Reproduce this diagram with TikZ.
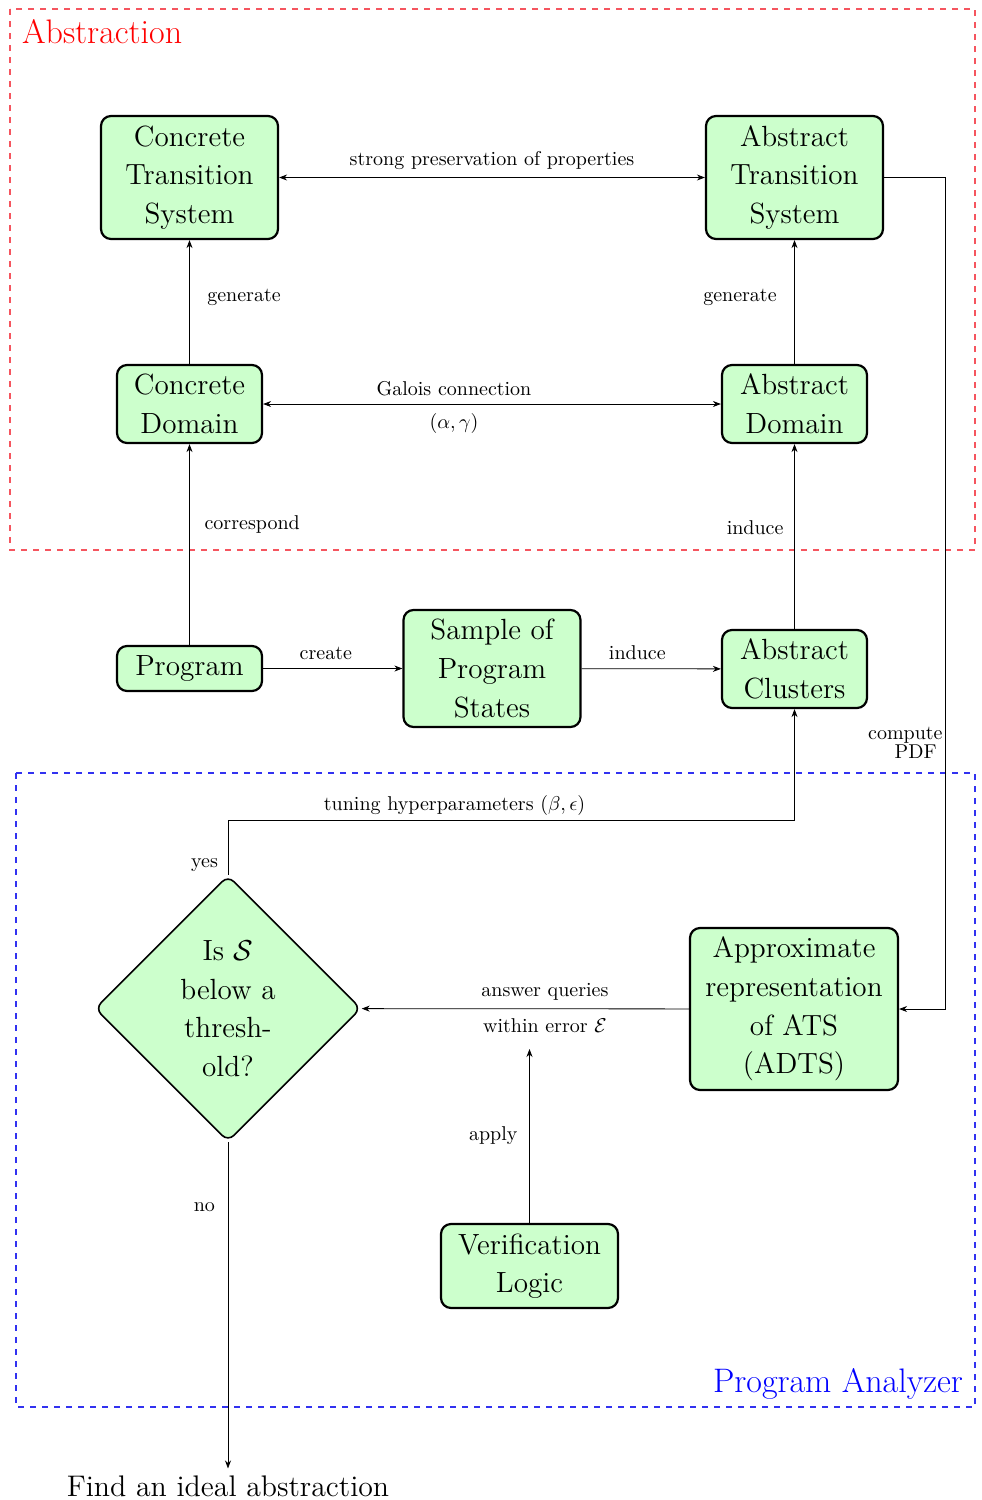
\documentclass[tikz,border=0pt]{standalone}
\usepackage{amsmath, amssymb}
\usepackage{xcolor}
\definecolor{boxgreen}{RGB}{204,255,204}
\definecolor{absred}{RGB}{245,85,95}
\definecolor{anablue}{RGB}{50,50,240}
\usetikzlibrary{positioning,arrows.meta,shapes.geometric}

\begin{document}
\begin{tikzpicture}[
      x=0.5pt,y=-0.5pt,
      >={Stealth[length=4pt,width=3pt]},
      blk/.style={draw=black,line width=1.1pt,rounded corners=5pt,fill=boxgreen,
        font=\fontsize{14.6}{19.3}\selectfont,align=center,inner sep=2pt},
      wide/.style={minimum width=88.5pt},
      narrow/.style={minimum width=72.5pt},
      ask/.style={diamond,draw=black,thick,rounded corners=4pt,fill=boxgreen,
        font=\fontsize{14.6}{19.3}\selectfont,align=center,inner sep=0pt,
        minimum width=133pt,minimum height=133pt},
      lbl/.style={font=\normalsize},
      title/.style={font=\fontsize{17}{20}\selectfont},
      region/.style={dashed,line width=0.6pt}
    ]
    \useasboundingbox (0,0) rectangle (981,1500);

    % the two regions
    \draw[region,absred] (10,9) rectangle (975,550);
    \node[title,red,anchor=west] (abslbl) at (15,32) {Abstraction};
    \draw[region,anablue] (16,773) rectangle (975,1407);
    \node[title,blue,anchor=east] (analbl) at (970,1384) {Program Analyzer};

    % boxes
    \node[blk,wide,minimum height=61.5pt] (cts) at (189.5,177.5) {Concrete\\Transition\\System};
    \node[blk,wide,minimum height=61.5pt] (ats) at (794.5,177.5) {Abstract\\Transition\\System};
    \node[blk,narrow,minimum height=39pt] (cd) at (189.5,404) {Concrete\\Domain};
    \node[blk,narrow,minimum height=39pt] (ad) at (794.5,404) {Abstract\\Domain};
    \node[blk,narrow,minimum height=22.5pt] (prog) at (189.5,668.5) {Program};
    \node[blk,wide,minimum height=58.5pt] (sample) at (492,668.5) {Sample of\\Program\\States};
    \node[blk,narrow,minimum height=39pt] (ac) at (794.5,669) {Abstract\\Clusters};
    \node[blk,minimum width=104pt,minimum height=81pt] (adts) at (794,1009) {Approximate\\representation\\of ATS\\(ADTS)};
    \node[blk,wide,minimum height=42pt] (vl) at (529.5,1266) {Verification\\Logic};
    \node[ask] (dec) at (228,1008.5) {Is $\mathcal{S}$\\below a\\thresh-\\old?};
    \node[font=\fontsize{14.9}{18}\selectfont] (ideal) at (228,1486) {Find an ideal abstraction};

    \coordinate (pdfturn) at (945,177.5);
    \coordinate (tune) at (228,820);
    \coordinate (applyend) at (529.5,1049);

    % abstraction part
    \draw[<->] (cts) -- node[above=0.5pt,lbl]{strong preservation of properties} (ats);
    \draw[->] (cd) -- node[pos=0.54,right=5.4pt,lbl]{generate} (cts);
    \draw[->] (ad) -- node[pos=0.54,left=5.4pt,lbl]{generate} (ats);
    \draw[<->] (cd) -- node[pos=0.417,above=0.5pt,lbl]{Galois connection}
      node[pos=0.417,below=1pt,lbl]{$(\alpha,\gamma)$} (ad);
    \draw[->] (prog) -- node[pos=0.6,right=4pt,lbl]{correspond} (cd);
    \draw[->] (prog) -- node[pos=0.45,above=1pt,lbl]{create} (sample);
    \draw[->] (sample) -- node[pos=0.4,above=1pt,lbl]{induce} (ac);
    \draw[->] (ac) -- node[pos=0.55,left=2pt,lbl]{induce} (ad);

    % analyzer part
    \draw[->] (ats) -- (pdfturn) |- node[pos=0.34,left,inner sep=1pt,align=right,
      font=\fontsize{10}{8.7}\selectfont]{compute\\PDF\hspace*{3pt}} (adts);
    \draw[->] (dec) -- node[pos=0.17,left=1.5pt,lbl]{yes} (tune)
      -| node[pos=0.2,above=-1.5pt,lbl]{tuning hyperparameters $(\beta,\epsilon)$} (ac);
    \draw[->] (adts) -- node[pos=0.44,above=0.5pt,lbl]{answer queries}
      node[pos=0.44,below=1.5pt,lbl]{within error $\mathcal{E}$} (dec);
    \draw[->] (vl) -- node[left=2.5pt,lbl]{apply} (applyend);
    \draw[->] (dec) -- node[pos=0.2,left=3pt,lbl]{no} (ideal);
  \end{tikzpicture}
\end{document}
